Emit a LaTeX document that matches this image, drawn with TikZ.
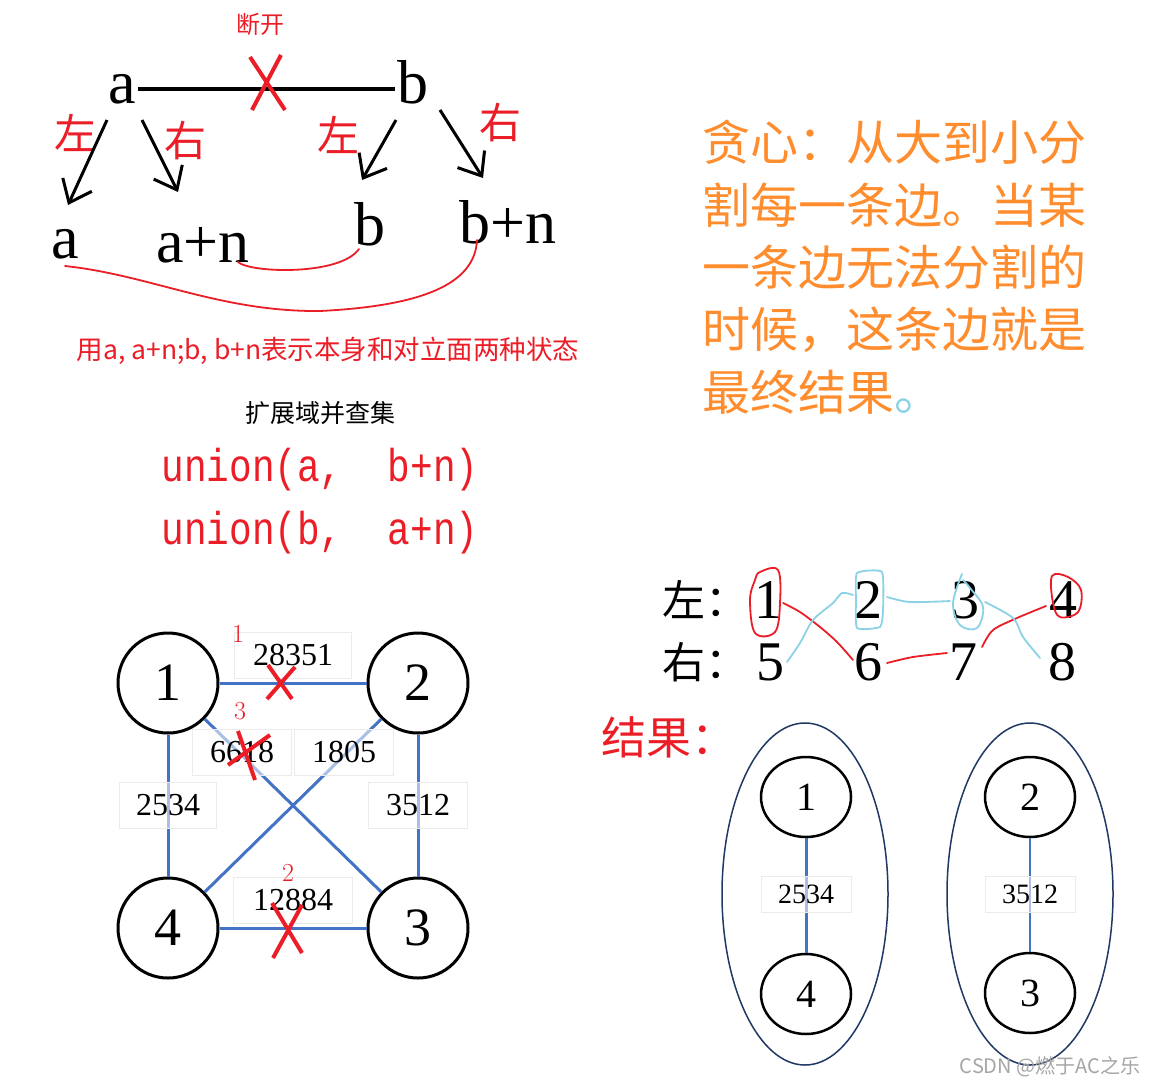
\documentclass[tikz,border=0pt]{standalone}
\usepackage{fontspec}
\newfontfamily\cjk{Noto Sans CJK SC}
\newfontfamily\monof{Liberation Mono}
\newfontfamily\tms{Liberation Serif}
\usetikzlibrary{arrows.meta,shapes.geometric}
\definecolor{myred}{RGB}{235,30,40}
\definecolor{myorange}{RGB}{255,140,45}
\definecolor{myblue}{RGB}{68,114,196}
\definecolor{lblue}{RGB}{140,210,230}
\definecolor{navy}{RGB}{32,56,100}
\begin{document}
\begin{tikzpicture}[x=1pt,y=-1pt,
  bigletter/.style={inner sep=2pt,anchor=base,font=\tms\fontsize{62}{62}\selectfont},
  redlbl/.style={text=myred,font=\cjk\fontsize{42}{42}\selectfont},
  arr/.style={line width=3pt,-{Straight Barb[length=20pt,width=32pt]}},
  redline/.style={myred,line width=1.8pt,line cap=round,line join=round},
  blueline/.style={lblue,line width=1.8pt,line cap=round,line join=round},
  redx/.style={myred,line width=4pt},
  bigc/.style={circle,draw,line width=3pt,minimum size=100pt,inner sep=0pt,font=\tms\fontsize{54}{54}\selectfont},
  smallc/.style={ellipse,draw,line width=2.5pt,minimum width=90pt,minimum height=80pt,inner sep=0pt,font=\tms\fontsize{40}{40}\selectfont},
  bedge/.style={myblue,line width=3pt},
  lbl/.style={draw=black!8,line width=0.6pt,fill=white,fill opacity=0.55,text opacity=1,inner sep=0pt,minimum height=46pt,font=\tms\fontsize{32}{32}\selectfont},
  slbl/.style={draw=black!8,line width=0.6pt,fill=white,fill opacity=0.55,text opacity=1,inner sep=0pt,minimum width=90pt,minimum height=36pt,font=\tms\fontsize{28}{28}\selectfont},
  orange/.style={anchor=west,inner sep=0pt,text=myorange,font=\cjk\fontsize{48}{48}\selectfont},
  digit/.style={font=\tms\fontsize{56}{56}\selectfont,inner sep=1pt},
  hand/.style={text=myred,font=\fontsize{26}{26}\selectfont,inner sep=0pt},
  uni/.style={text=myred,font=\monof\fontsize{46}{46}\selectfont,xscale=0.82}
]
\useasboundingbox[fill=white] (0,0) rectangle (1155,1087);

% ---------- top part ----------
\node[text=myred,font=\cjk\fontsize{24}{24}\selectfont] (dk) at (260,24) {断开};
\node[bigletter] (atop) at (122,103) {a};
\node[bigletter] (btop) at (413,103) {b};
\draw[line width=4pt] (atop.east) -- (btop.west |- atop.east);
\draw[redx] (250,57) -- (285,110) (281,55) -- (252,110);

\node[bigletter] (abot) at (65,258) {a};
\node[bigletter] (apn) at (203,262) {a+n};
\node[bigletter] (bbot) at (370,245) {b};
\node[bigletter] (bpn) at (508,243) {b+n};

\node[redlbl] (l1) at (75,133) {左};
\node[redlbl] (r1) at (185,141) {右};
\node[redlbl] (l2) at (338,135) {左};
\node[redlbl] (r2) at (500,123) {右};

\draw[arr] ([shift={(-15,17)}]atop.base) -- ([shift={(3,-53)}]abot.base);
\draw[arr] ([shift={(20,17)}]atop.base) -- ([shift={(-25,-70)}]apn.base);
\draw[arr] ([shift={(-17,17)}]btop.base) -- ([shift={(-8,-65)}]bbot.base);
\draw[arr] ([shift={(27,7)}]btop.base) -- ([shift={(-25,-65)}]bpn.base);

\draw[redline] (238,262) .. controls (250,273) and (340,276) .. (359,249);
\draw[redline] (65,266) .. controls (150,275) and (220,312) .. (320,311) .. controls (420,306) and (475,285) .. (477,240);

\node[text=myred,font=\cjk\fontsize{26.5}{26.5}\selectfont] (desc) at (328,351) {用a, a+n;b, b+n表示本身和对立面两种状态};
\node[font=\cjk\fontsize{25}{25}\selectfont] (kz) at (320,413) {扩展域并查集};
\node[uni] (u1) at (320,470) {union(a,\ \ b+n)};
\node[uni] (u2) at (320,533) {union(b,\ \ a+n)};

% ---------- orange text ----------
\node[orange] (o1) at (702,142) {贪心：从大到小分};
\node[orange] (o2) at (702,205) {割每一条边。当某};
\node[orange] (o3) at (702,267) {一条边无法分割的};
\node[orange] (o4) at (702,330) {时候，这条边就是};
\node[orange] (o5) at (702,392) {最终结果\textcolor{lblue}{。}};

% ---------- bottom-left graph ----------
\node[bigc] (n1) at (168,683) {1};
\node[bigc] (n2) at (418,683) {2};
\node[bigc] (n3) at (418,928) {3};
\node[bigc] (n4) at (168,928) {4};
\draw[bedge] (n1) -- (n2);
\draw[bedge] (n1) -- (n3);
\draw[bedge] (n2) -- (n4);
\draw[bedge] (n1) -- (n4);
\draw[bedge] (n2) -- (n3);
\draw[bedge] (n4) -- (n3);
\node[lbl,minimum width=117pt] (e12) at (293,655) {28351};
\node[lbl,minimum width=99pt] (e13) at (242,752) {6618};
\node[lbl,minimum width=99pt] (e24) at (344,752) {1805};
\node[lbl,minimum width=97pt] (e14) at (168,805) {2534};
\node[lbl,minimum width=99pt] (e23) at (418,805) {3512};
\node[lbl,minimum width=119pt] (e43) at (293,900) {12884};
\draw[redx] (267,699) -- (295,667) (268,665) -- (292,699);
\draw[redx] (238,731) -- (255,780) (270,735) -- (228,765);
\draw[redx] (272,903) -- (302,953) (302,905) -- (273,958);
\node[hand] (h1) at (238,634) {1};
\node[hand] (h3) at (240,711) {3};
\node[hand] (h2) at (288,873) {2};

% ---------- bottom-right ----------
\node[anchor=west,inner sep=0pt,font=\cjk\fontsize{43}{43}\selectfont] (zuo) at (662,600) {左：};
\node[anchor=west,inner sep=0pt,font=\cjk\fontsize{43}{43}\selectfont] (you) at (662,662) {右：};
\node[digit] (d1) at (768,600) {1};
\node[digit] (d2) at (868,600) {2};
\node[digit] (d3) at (965,600) {3};
\node[digit] (d4) at (1063,600) {4};
\node[digit] (d5) at (770,662) {5};
\node[digit] (d6) at (868,662) {6};
\node[digit] (d7) at (963,662) {7};
\node[digit] (d8) at (1062,662) {8};

\draw[redline] plot[smooth cycle,tension=0.6] coordinates {(760,572) (778,570) (780,603) (775,632) (755,633) (750,600) (755,580)};
\draw[redline] plot[smooth cycle,tension=0.6] coordinates {(1052,576) (1068,577) (1081,590) (1078,612) (1060,617) (1053,603)};
\draw[blueline] plot[smooth cycle,tension=0.3] coordinates {(857,573) (882,572) (883,610) (880,627) (857,628) (856,600)};
\draw[blueline] plot[smooth,tension=0.6] coordinates {(962,574) (953,603) (960,625) (977,628) (983,607) (970,588) (963,580)};
\draw[redline] plot[smooth] coordinates {(783,603) (800,612) (820,627) (837,642) (853,660)};
\draw[redline] plot[smooth] coordinates {(887,663) (913,657) (947,653)};
\draw[redline] plot[smooth] coordinates {(982,647) (993,630) (1017,618) (1046,606)};
\draw[blueline] plot[smooth] coordinates {(787,662) (800,643) (813,620) (833,603) (842,593) (853,595)};
\draw[blueline] plot[smooth] coordinates {(887,597) (910,602) (950,601)};
\draw[blueline] plot[smooth] coordinates {(985,602) (1013,618) (1023,637) (1040,658)};

\node[anchor=west,inner sep=0pt,text=myred,font=\cjk\fontsize{45}{45}\selectfont] (jg) at (601,737) {结果：};

\node[ellipse,draw=navy,line width=1.5pt,minimum width=166pt,minimum height=342pt] (g1) at (805,894) {};
\node[ellipse,draw=navy,line width=1.5pt,minimum width=166pt,minimum height=342pt] (g2) at (1030,894) {};
\node[smallc] (m1) at (806,797) {1};
\node[smallc] (m4) at (806,994) {4};
\node[smallc] (m2) at (1030,797) {2};
\node[smallc] (m3) at (1030,993) {3};
\draw[bedge] (m1) -- (m4);
\draw[myblue,line width=2pt] (m2) -- (m3);
\node[slbl] (s14) at (806,894) {2534};
\node[slbl] (s23) at (1030,894) {3512};

\node[text=black!35,font=\cjk\fontsize{20}{20}\selectfont] (wm) at (1050,1067) {CSDN @燃于AC之乐};
\end{tikzpicture}
\end{document}
